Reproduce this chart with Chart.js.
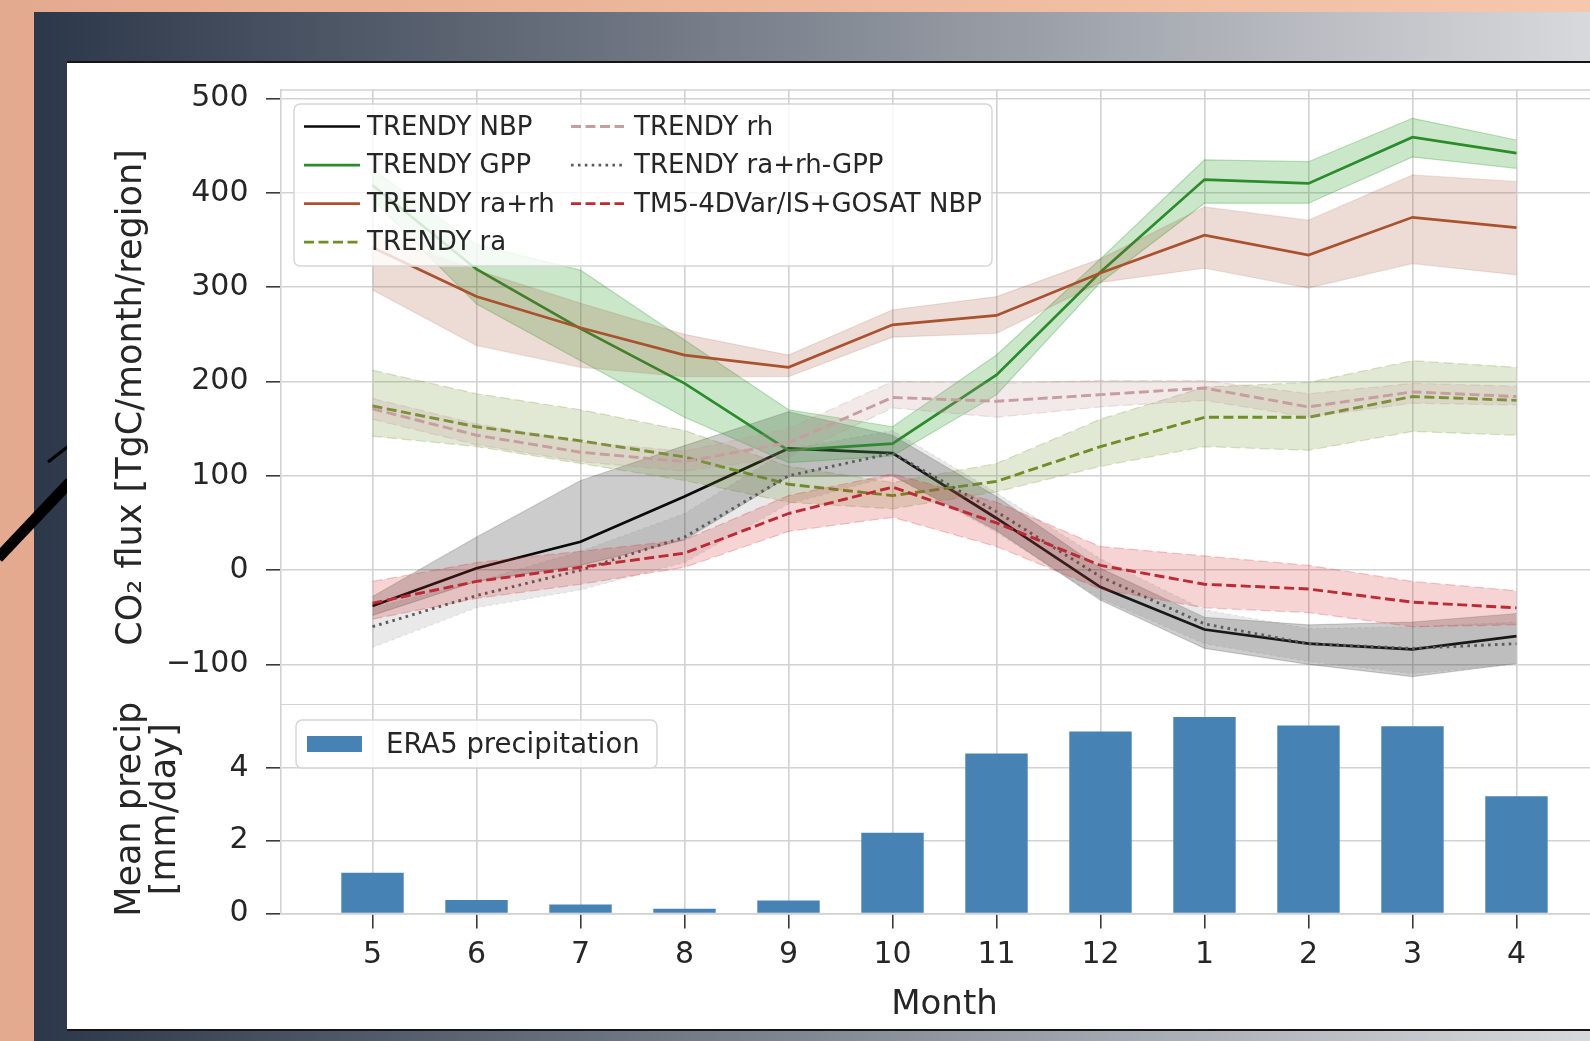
<!DOCTYPE html>
<html lang="en">
<head>
<meta charset="utf-8">
<title>Seasonal CO2 flux and precipitation</title>
<script src="https://cdn.jsdelivr.net/npm/chart.js@4.4.1/dist/chart.umd.min.js"></script>
<style>
  html, body { margin:0; padding:0; width:1590px; height:1041px; overflow:hidden; }
  body { position:relative; background:linear-gradient(90deg,#e4aa8f 0%,#ecb79c 45%,#f5c7ad 100%); }
  #frame { position:absolute; left:34px; top:12px; width:1556px; height:1029px;
           background:linear-gradient(90deg,#2c3749 0%,#d8d9dc 100%); }
  #deco { position:absolute; left:0; top:0; }
  #panel { position:absolute; left:67px; top:61px; width:1523px; height:970px; background:#fff;
           border-top:2px solid #151515; border-bottom:2px solid #151515; box-sizing:border-box; }
  canvas { position:absolute; }
  #flux { left:67px; top:63px; }
  #precip { left:67px; top:700px; }
</style>
</head>
<body>
<div id="frame"></div>
<svg id="deco" width="70" height="600" viewBox="0 0 70 600">
  <line x1="-2" y1="558" x2="70" y2="482" stroke="#000" stroke-width="11"/>
  <line x1="48" y1="462" x2="70" y2="445" stroke="#000" stroke-width="3"/>
</svg>
<div id="panel"></div>
<canvas id="flux" width="1541" height="642"></canvas>
<canvas id="precip" width="1541" height="329"></canvas>
<script>
// ---- data -------------------------------------------------------------
const months = ['5', '6', '7', '8', '9', '10', '11', '12', '1', '2', '3', '4'];

const nbpMean = [-38, 2, 30, 78, 129, 124, 55, -18, -63, -78, -84, -70];
const nbpLo   = [-48, -12, 5, 32, 99, 100, 42, -32, -83, -100, -113, -99];
const nbpHi   = [-28, 35, 95, 132, 168, 143, 78, 2, -50, -58, -55, -46];

const gppMean = [408, 319, 256, 198, 127, 134, 207, 316, 414, 410, 459, 442];
const gppLo   = [393, 282, 222, 162, 114, 121, 186, 305, 389, 389, 438, 426];
const gppHi   = [425, 345, 318, 244, 170, 152, 228, 330, 435, 433, 479, 456];

const raRhMean = [342, 290, 257, 228, 215, 260, 270, 315, 355, 334, 374, 363];
const raRhLo   = [297, 238, 215, 205, 205, 247, 251, 305, 320, 299, 325, 313];
const raRhHi   = [356, 318, 283, 250, 228, 276, 290, 330, 385, 371, 419, 412];

const raMean = [174, 152, 137, 120, 91, 79, 94, 131, 162, 162, 184, 180];
const raLo   = [142, 131, 113, 95, 72, 65, 83, 110, 131, 127, 147, 143];
const raHi   = [212, 187, 170, 148, 110, 93, 113, 160, 194, 199, 222, 215];

const rhMean = [171, 143, 125, 115, 135, 183, 179, 186, 193, 173, 189, 184];
const rhLo   = [160, 133, 115, 105, 120, 172, 162, 173, 180, 162, 177, 175];
const rhHi   = [182, 155, 136, 126, 150, 200, 198, 201, 201, 187, 198, 195];

const raRhGppMean = [-60, -27, 0, 35, 100, 124, 62, -7, -57, -78, -83, -78];
const raRhGppLo   = [-82, -40, -21, 8, 70, 100, 40, -30, -78, -97, -110, -100];
const raRhGppHi   = [-40, -12, 20, 60, 128, 148, 82, 12, -42, -62, -60, -55];

const tm5Mean = [-35, -12, 3, 18, 60, 88, 50, 5, -15, -20, -34, -40];
const tm5Lo   = [-52, -30, -15, 3, 41, 56, 25, -20, -40, -45, -60, -58];
const tm5Hi   = [-12, 8, 20, 32, 79, 102, 72, 25, 15, 5, -12, -22];

const precip = [1.12, 0.37, 0.25, 0.13, 0.36, 2.22, 4.39, 4.99, 5.39, 5.16, 5.14, 3.22];

const fluxTicks = [-100, 0, 100, 200, 300, 400, 500];
const precipTicks = [0, 2, 4];
const fluxLimits = [-143, 509];
const precipLimits = [0, 5.72];
const monthLimits = [-0.88, 11.88];

// ---- styling ----------------------------------------------------------
const FONT = "'DejaVu Sans', sans-serif";
const INK = '#262626';
const GRID = '#d2d2d2';
const TICK = '#3a3a3a';
const DASH = [10, 4.5];
const DOT = [2.6, 4.3];

const series = [
  { label: 'TRENDY NBP', mean: nbpMean, lo: nbpLo, hi: nbpHi,
    color: '#0a0a0a', band: 'rgba(0,0,0,0.20)', edge: 'rgba(0,0,0,0.15)', dash: [], width: 2.7 },
  { label: 'TRENDY GPP', mean: gppMean, lo: gppLo, hi: gppHi,
    color: '#2a8c2a', band: 'rgba(44,160,44,0.25)', edge: 'rgba(44,160,44,0.3)', dash: [], width: 2.7 },
  { label: 'TRENDY ra+rh', mean: raRhMean, lo: raRhLo, hi: raRhHi,
    color: '#aa522e', band: 'rgba(160,82,45,0.20)', edge: 'rgba(160,82,45,0.15)', dash: [], width: 2.7 },
  { label: 'TRENDY ra', mean: raMean, lo: raLo, hi: raHi,
    color: '#6f8f25', band: 'rgba(107,142,35,0.20)', edge: 'rgba(107,142,35,0.25)', dash: DASH, width: 2.9 },
  { label: 'TRENDY rh', mean: rhMean, lo: rhLo, hi: rhHi,
    color: '#c89da0', band: 'rgba(188,143,143,0.20)', edge: 'rgba(188,143,143,0.25)', dash: DASH, width: 2.9 },
  { label: 'TRENDY ra+rh-GPP', mean: raRhGppMean, lo: raRhGppLo, hi: raRhGppHi,
    color: '#5c5c5c', band: 'rgba(105,105,105,0.15)', edge: 'rgba(105,105,105,0.15)', dash: DOT, width: 2.9 },
  { label: 'TM5-4DVar/IS+GOSAT NBP', mean: tm5Mean, lo: tm5Lo, hi: tm5Hi,
    color: '#bd2a34', band: 'rgba(214,39,40,0.20)', edge: 'rgba(214,39,40,0.25)', dash: DASH, width: 2.9 }
];

Chart.defaults.font.family = FONT;
Chart.defaults.color = INK;

const pts = arr => arr.map((v, i) => ({ x: i, y: v }));
const monthTicks = axis => { axis.ticks = months.map((m, i) => ({ value: i })); };
// fixed-width y axis with no extra room reserved for the end labels
const fitY = s => { s.width = 214; s.paddingTop = 0; s.paddingBottom = 0; };

// ---- top panel: fluxes with spread bands ------------------------------
const fluxSets = [];
series.forEach((s, k) => {
  const ord = 2 * (series.length - k);
  const common = { pointRadius: 0, borderDash: s.dash, tension: 0 };
  fluxSets.push({ ...common, label: s.label + ' low', data: pts(s.lo), borderColor: s.edge,
                  borderWidth: 1.2, fill: false, order: ord + 1 });
  fluxSets.push({ ...common, label: s.label + ' high', data: pts(s.hi), borderColor: s.edge,
                  borderWidth: 1.2, fill: '-1', backgroundColor: s.band, order: ord + 1 });
  fluxSets.push({ ...common, label: s.label, data: pts(s.mean), borderColor: s.color,
                  borderWidth: s.width, fill: false, order: ord });
});

// Box legend drawn inside the plot area, positions relative to the chart area.
function boxLegend(id, cfg) {
  return {
    id,
    afterDraw(chart) {
      const { ctx, chartArea: a } = chart;
      ctx.save();
      ctx.beginPath();
      ctx.roundRect(a.left + cfg.box.x, a.top + cfg.box.y, cfg.box.w, cfg.box.h, 6);
      ctx.fillStyle = 'rgba(255,255,255,0.8)';
      ctx.fill();
      ctx.lineWidth = 1.5;
      ctx.strokeStyle = '#d6d6d6';
      ctx.stroke();
      ctx.font = cfg.fontSize + 'px ' + FONT;
      ctx.textBaseline = 'middle';
      ctx.textAlign = 'left';
      cfg.items.forEach(it => {
        const y = a.top + it.y;
        if (it.patch) {
          ctx.fillStyle = it.color;
          ctx.fillRect(a.left + it.x0, y - it.patch / 2, it.x1 - it.x0, it.patch);
        } else {
          ctx.beginPath();
          ctx.setLineDash(it.dash);
          ctx.lineWidth = it.width;
          ctx.strokeStyle = it.color;
          ctx.moveTo(a.left + it.x0, y);
          ctx.lineTo(a.left + it.x1, y);
          ctx.stroke();
          ctx.setLineDash([]);
        }
        ctx.fillStyle = INK;
        ctx.fillText(it.label, a.left + it.tx, y + 1.5);
      });
      ctx.restore();
    }
  };
}

// top spine of the flux panel
const topSpine = {
  id: 'topSpine',
  beforeDatasetsDraw(chart) {
    const { ctx, chartArea: a } = chart;
    ctx.save();
    ctx.strokeStyle = GRID;
    ctx.lineWidth = 1.6;
    ctx.beginPath();
    ctx.moveTo(a.left, a.top);
    ctx.lineTo(a.right, a.top);
    ctx.stroke();
    ctx.restore();
  }
};

const legendRows = [36.5, 75.1, 113.6, 152.1];
const legendCols = [{ x0: 23, x1: 79, tx: 86 }, { x0: 290, x1: 343, tx: 353 }];
const fluxLegend = boxLegend('fluxLegend', {
  box: { x: 13, y: 14, w: 698, h: 162 },
  fontSize: 26,
  items: series.map((s, k) => {
    const c = legendCols[Math.floor(k / 4)];
    return { label: s.label, color: s.color, dash: s.dash, width: s.width,
             x0: c.x0, x1: c.x1, tx: c.tx, y: legendRows[k % 4] };
  })
});

const yTickStyle = {
  font: { size: 30 }, color: INK, padding: 17.5,
  callback: v => String(v).replace('-', '\u2212')
};
const yGrid = { color: GRID, lineWidth: 1.6, tickColor: TICK, tickWidth: 1.6, tickLength: 15 };

new Chart(document.getElementById('flux'), {
  type: 'line',
  data: { datasets: fluxSets },
  options: {
    responsive: false, animation: false, devicePixelRatio: 1,
    layout: { padding: { top: 27, left: 0, right: 0, bottom: 0 } },
    plugins: { legend: { display: false }, tooltip: { enabled: false } },
    scales: {
      x: {
        type: 'linear', min: monthLimits[0], max: monthLimits[1],
        afterBuildTicks: monthTicks,
        ticks: { display: false },
        grid: { color: GRID, lineWidth: 1.6, drawTicks: false, offset: false },
        border: { color: GRID, width: 1.6 },
        afterFit: s => { s.height = 0; s.paddingLeft = 0; s.paddingRight = 0; }
      },
      y: {
        min: fluxLimits[0], max: fluxLimits[1],
        afterBuildTicks: axis => { axis.ticks = fluxTicks.map(v => ({ value: v })); },
        ticks: yTickStyle,
        grid: yGrid,
        border: { color: GRID, width: 1.6 },
        title: { display: true, text: 'CO\u2082 flux [TgC/month/region]', color: INK,
                 font: { size: 35, lineHeight: 1.2 }, padding: { top: 44, bottom: 0 } },
        afterFit: fitY
      }
    }
  },
  plugins: [topSpine, fluxLegend]
});

// ---- bottom panel: precipitation bars ----------------------------------
const precipLegend = boxLegend('precipLegend', {
  box: { x: 15, y: 15, w: 361, h: 48 },
  fontSize: 27.5,
  items: [{ label: 'ERA5 precipitation', color: '#4682b4', patch: 16, x0: 26, x1: 81, tx: 105, y: 39 }]
});

new Chart(document.getElementById('precip'), {
  type: 'bar',
  data: {
    datasets: [{
      label: 'ERA5 precipitation',
      data: pts(precip),
      backgroundColor: '#4682b4',
      borderWidth: 0,
      categoryPercentage: 1.0,
      barPercentage: 0.6
    }]
  },
  options: {
    responsive: false, animation: false, devicePixelRatio: 1,
    layout: { padding: { top: 5, left: 0, right: 0, bottom: 0 } },
    plugins: { legend: { display: false }, tooltip: { enabled: false } },
    scales: {
      x: {
        type: 'linear', min: monthLimits[0], max: monthLimits[1],
        offset: false,
        afterBuildTicks: monthTicks,
        ticks: { font: { size: 30 }, color: INK, padding: 8.4, autoSkip: false, maxRotation: 0,
                 callback: v => months[v] },
        grid: { color: GRID, lineWidth: 1.6, tickColor: TICK, tickWidth: 1.6, tickLength: 15, offset: false },
        border: { color: GRID, width: 1.6 },
        title: { display: true, text: 'Month', color: INK,
                 font: { size: 34, lineHeight: 1.2 }, padding: { top: 0, bottom: 3.6 } },
        afterFit: s => { s.height = 115.4; s.paddingLeft = 0; s.paddingRight = 0; }
      },
      y: {
        min: precipLimits[0], max: precipLimits[1],
        afterBuildTicks: axis => { axis.ticks = precipTicks.map(v => ({ value: v })); },
        ticks: yTickStyle,
        grid: yGrid,
        border: { color: GRID, width: 1.6 },
        title: { display: true, text: ['Mean precip', '[mm/day]'], color: INK,
                 font: { size: 35, lineHeight: 1.0 }, padding: { top: 46, bottom: 0 } },
        afterFit: fitY
      }
    }
  },
  plugins: [precipLegend]
});
</script>
</body>
</html>
